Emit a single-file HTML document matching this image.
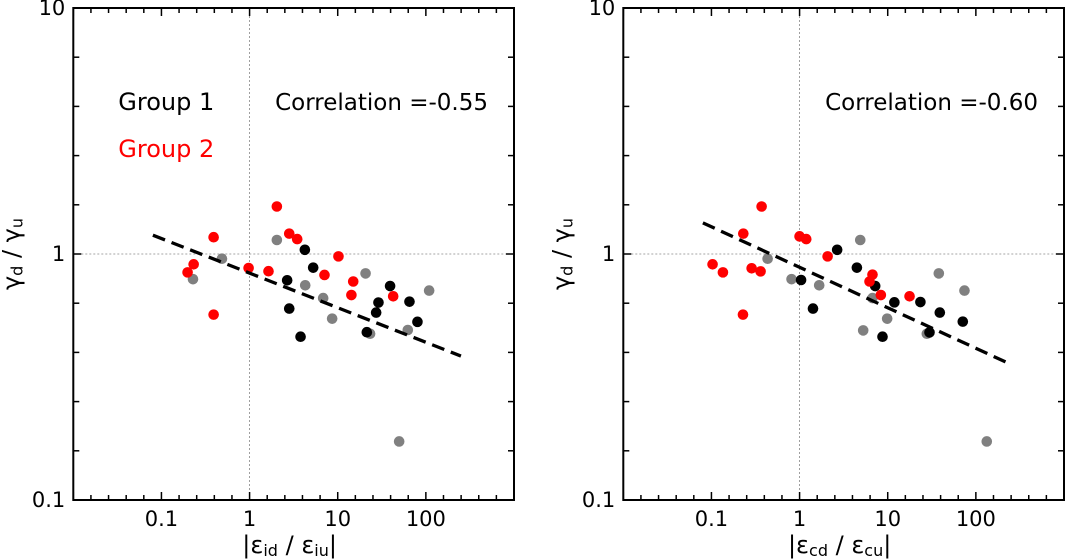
<!DOCTYPE html>
<html><head><meta charset="utf-8"><style>
html,body{margin:0;padding:0;background:#fff;}
svg{display:block;font-family:"DejaVu Sans","Liberation Sans",sans-serif;}
</style></head><body>
<svg id="chart" width="1065" height="560" viewBox="0 0 1065 560" xmlns="http://www.w3.org/2000/svg"></svg>
<script>
// Left panel data
const leftRedX=[0.198,0.232,0.391,0.391,0.975,1.64,2.04,2.82,3.47,7.08,10.2,15.0,14.3,42.6];
const leftRedY=[0.842,0.908,1.17,0.567,0.877,0.851,1.56,1.21,1.15,0.822,0.978,0.773,0.681,0.673];
const leftGrayX=[0.228,0.486,2.04,4.28,6.84,8.65,20.7,23.3,49.8,62.4,109];
const leftGrayY=[0.79,0.957,1.14,0.746,0.662,0.546,0.834,0.474,0.173,0.491,0.71];
const leftBlackX=[4.24,5.27,2.67,2.82,3.79,39.3,29,27.3,21.4,65.2,80.3];
const leftBlackY=[1.04,0.88,0.782,0.6,0.461,0.741,0.635,0.578,0.481,0.64,0.53];
const leftFit=[-0.0777,-0.1406]; // intercept, slope in log-log
const leftCorr="Correlation =-0.55";
// Right panel data
const rightRedX=[0.103,0.135,0.23,0.228,0.286,0.361,0.371,1.0,1.19,2.08,6.72,6.22,8.36,17.7];
const rightRedY=[0.908,0.842,1.21,0.567,0.875,0.85,1.56,1.18,1.15,0.978,0.824,0.773,0.681,0.673];
const rightGrayX=[0.434,0.811,1.67,4.88,6.72,5.27,9.86,27.8,38,74.3,133];
const rightGrayY=[0.957,0.79,0.746,1.14,0.662,0.489,0.546,0.474,0.834,0.71,0.173];
const rightBlackX=[2.67,4.47,1.04,1.42,7.21,11.9,8.73,23.5,39,29.8,71.1];
const rightBlackY=[1.04,0.88,0.784,0.6,0.741,0.636,0.461,0.638,0.578,0.48,0.531];
const rightFit=[-0.054,-0.1646];
const rightCorr="Correlation =-0.60";
const xTickLabels=["0.1","1","10","100"];
const yTickLabels=["0.1","1","10"];

const NS="http://www.w3.org/2000/svg";
const svg=document.getElementById('chart');
function mk(tag,attrs,parent,text){const e=document.createElementNS(NS,tag);for(const k in attrs)e.setAttribute(k,attrs[k]);if(text!==undefined)e.textContent=text;parent.appendChild(e);return e;}

function panel(off,name,rx,ry,gx,gy,bx,by,fit,corr,legend,xsub){
  const L=73.3+off,R=514+off,T=8,B=500;
  const sx=v=>L+(Math.log10(v)+2)/5*(R-L);
  const sy=v=>B-(Math.log10(v)+1)/2*(B-T);
  const g=mk('g',{},svg);
  
  
  const vl=mk('line',{x1:sx(1),x2:sx(1),y1:T,y2:B,stroke:'#888','stroke-width':0.8,'stroke-dasharray':'2,2'},g);
  
  const hl=mk('line',{x1:L,x2:R,y1:sy(1),y2:sy(1),stroke:'#888','stroke-width':0.8,'stroke-dasharray':'2,2'},g);
  
  for(let i=0;i<=25;i++){const lx=-2+i*0.2;const x=L+(lx+2)/5*(R-L);const maj=Math.abs(lx-Math.round(lx))<1e-6;const len=maj?8:5;
    mk('line',{x1:x,x2:x,y1:B,y2:B-len,stroke:'#000','stroke-width':1.5},g);
    mk('line',{x1:x,x2:x,y1:T,y2:T+len,stroke:'#000','stroke-width':1.5},g);}
  for(let i=0;i<=10;i++){const ly=-1+i*0.2;const y=B-(ly+1)/2*(B-T);const maj=Math.abs(ly-Math.round(ly))<1e-6;const len=maj?8:6;
    mk('line',{x1:L,x2:L+len,y1:y,y2:y,stroke:'#000','stroke-width':1.5},g);
    mk('line',{x1:R,x2:R-len,y1:y,y2:y,stroke:'#000','stroke-width':1.5},g);}
  xTickLabels.forEach(t=>{const e=mk('text',{x:sx(parseFloat(t)),y:526,'text-anchor':'middle','font-size':21},g,t);
    });
  yTickLabels.forEach(t=>{const e=mk('text',{x:L-8,y:sy(parseFloat(t))+7,'text-anchor':'end','font-size':21},g,t);
    });
  const series=[[gx,gy,'#808080','gray'],[bx,by,'#000','black'],[rx,ry,'#ff0000','red']];
  series.forEach(s=>{s[0].forEach((v,i)=>{const c=mk('circle',{cx:sx(v),cy:sy(s[1][i]),r:5.3,fill:s[2]},g);
    });});
  const f=x=>Math.pow(10,fit[0]+fit[1]*Math.log10(x));
  const fl=mk('line',{x1:sx(0.08),y1:sy(f(0.08)),x2:sx(250),y2:sy(f(250)),stroke:'#000','stroke-width':3.3,'stroke-dasharray':'13,7'},g);
  
  const fr=mk('rect',{x:L,y:T,width:R-L,height:B-T,fill:'none',stroke:'#000','stroke-width':2},g);
  
  const ct=mk('text',{x:R-26,y:110,'text-anchor':'end','font-size':23},g,corr);
  
  if(legend){
    const a=mk('text',{x:L+45,y:110,'font-size':24,fill:'#000'},g,'Group 1');
    
    const b=mk('text',{x:L+45,y:157,'font-size':24,fill:'#ff0000'},g,'Group 2');
    
  }
  const xt=mk('text',{x:(L+R)/2-4,y:553,'text-anchor':'middle','font-size':24},g);
  
  xt.innerHTML='|ε<tspan font-size="16" dy="3">'+xsub[0]+'</tspan><tspan dy="-3"> / ε</tspan><tspan font-size="16" dy="3">'+xsub[1]+'</tspan><tspan dy="-3">|</tspan>';
  const yt=mk('text',{x:0,y:0,'text-anchor':'middle','font-size':24,transform:'translate('+(L-54)+','+((T+B)/2)+') rotate(-90)'},g);
  
  yt.innerHTML='γ<tspan font-size="16" dy="3">d</tspan><tspan dy="-3"> / γ</tspan><tspan font-size="16" dy="3">u</tspan>';
}
panel(0,'left-panel',leftRedX,leftRedY,leftGrayX,leftGrayY,leftBlackX,leftBlackY,leftFit,leftCorr,true,['id','iu']);
panel(550,'right-panel',rightRedX,rightRedY,rightGrayX,rightGrayY,rightBlackX,rightBlackY,rightFit,rightCorr,false,['cd','cu']);
</script>
</body></html>
